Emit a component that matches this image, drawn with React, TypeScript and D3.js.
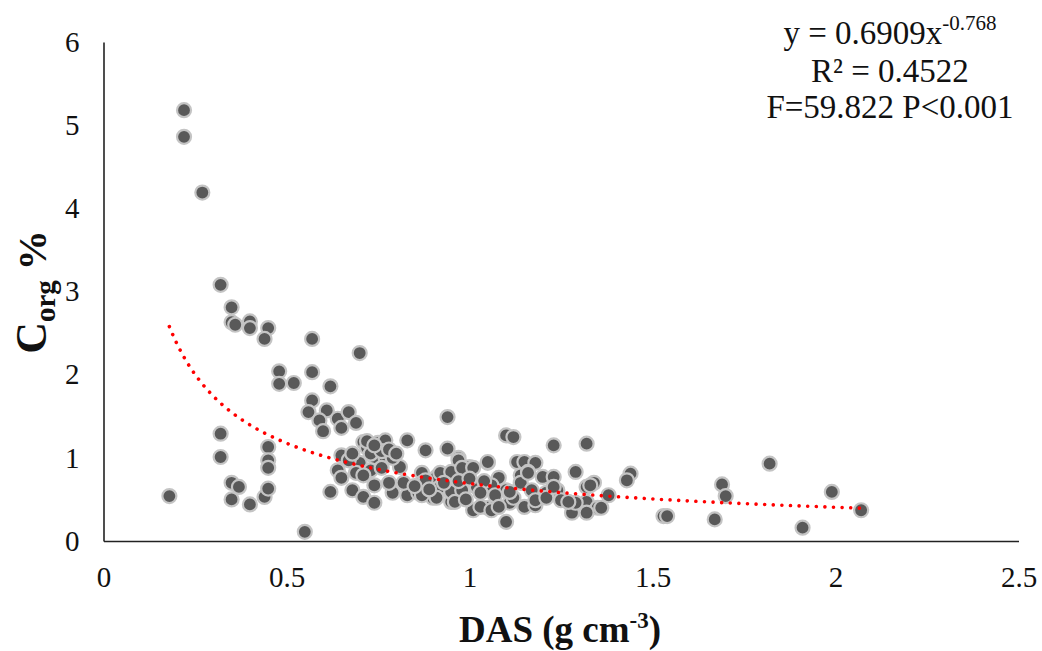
import React, { useEffect, useRef } from "react";
import * as d3 from "d3";

// bulk density (DAS) and organic carbon (Corg %)
const dasValues = [
  0.18, 0.22, 0.22, 0.27, 0.32, 0.35, 0.35, 0.36, 0.40, 0.40, 0.45, 0.44, 0.32, 0.32, 0.35, 0.37, 0.35, 0.40, 0.44, 0.45,
  0.45, 0.45, 0.45, 0.48, 0.48, 0.52, 0.55,
  0.57, 0.70, 0.57, 0.62, 0.57, 0.56, 0.61, 0.59, 0.64, 0.67, 0.69, 0.60, 0.65, 0.71, 0.75, 0.77, 0.83, 0.94, 0.88, 0.94,
  0.65, 0.64, 0.65, 0.71, 0.75, 0.81, 0.87, 0.91, 0.97, 1.00, 1.05, 0.62, 0.68, 0.71, 0.74, 0.74, 0.79, 0.83, 0.86, 0.90,
  0.95, 0.95, 0.98, 1.01, 1.05, 0.78, 0.82, 1.01,
  0.70, 0.74, 0.77, 0.79, 0.69, 0.73, 0.76, 0.71, 0.87,
  0.72, 0.73, 0.76, 0.72, 0.74, 0.78, 0.80, 0.67, 0.68,
  1.10, 1.12, 1.23, 0.97, 1.05, 1.13, 1.15, 1.18, 0.92, 0.95, 0.98, 1.01, 1.08, 1.14, 1.16, 1.20, 1.23, 0.88, 0.92, 0.95,
  0.98, 1.02, 1.06, 1.10, 1.14, 1.17, 1.21, 1.24, 0.87, 0.91, 0.96, 1.03, 1.07, 1.06, 1.11, 1.15, 1.18, 1.10,
  0.93, 0.97, 1.00, 1.04, 1.07, 1.12, 0.99, 1.03, 0.89, 0.85,
  1.32, 1.29, 1.44, 1.43, 1.16, 1.32, 1.34, 1.38, 1.08, 1.11, 1.18, 1.21, 1.25, 1.28, 1.32, 1.35, 1.32, 1.29, 1.53, 1.23,
  1.27, 1.36, 1.33,
  1.82, 1.69, 1.70, 1.99, 2.07, 1.54, 1.67, 1.91,
];
const corgValues = [
  0.54, 5.18, 4.86, 4.19, 3.08, 2.81, 2.63, 2.60, 2.64, 2.56, 2.56, 2.43, 1.29, 1.01, 0.70, 0.65, 0.50, 0.44, 0.53, 0.63,
  1.13, 0.97, 0.88, 2.04, 1.89, 1.90, 0.11,
  2.43, 2.26, 2.03, 1.86, 1.69, 1.55, 1.57, 1.45, 1.47, 1.55, 1.42, 1.32, 1.36, 1.19, 1.18, 1.21, 1.21, 1.49, 1.09, 1.11,
  1.03, 0.85, 0.76, 0.83, 0.94, 0.89, 0.82, 0.77, 1.00, 0.89, 0.94, 0.59, 0.61, 0.53, 0.67, 0.46, 0.58, 0.55, 0.58, 0.52,
  0.58, 0.47, 0.59, 0.37, 0.40, 0.70, 0.70, 0.67,
  0.94, 1.01, 1.01, 1.00, 0.82, 0.85, 0.88, 0.79, 0.70,
  1.12, 1.05, 1.08, 1.20, 1.15, 1.10, 1.05, 0.97, 1.05,
  1.27, 1.25, 1.15, 0.97, 0.95, 0.95, 0.95, 0.94, 0.82, 0.83, 0.88, 0.88, 0.76, 0.79, 0.83, 0.77, 0.77, 0.73, 0.65, 0.59,
  0.61, 0.65, 0.67, 0.61, 0.70, 0.61, 0.58, 0.61, 0.55, 0.52, 0.47, 0.41, 0.41, 0.37, 0.46, 0.41, 0.43, 0.23,
  0.70, 0.72, 0.75, 0.72, 0.55, 0.52, 0.50, 0.58, 0.62, 0.66,
  1.17, 0.83, 0.81, 0.73, 0.82, 0.65, 0.70, 0.55, 0.41, 0.59, 0.49, 0.52, 0.49, 0.34, 0.47, 0.40, 0.34, 0.46, 0.30, 0.65,
  0.47, 0.40, 0.67,
  0.93, 0.68, 0.54, 0.59, 0.37, 0.30, 0.26, 0.16,
];

const xTicks = [0, 0.5, 1, 1.5, 2, 2.5];
const yTicks = [0, 1, 2, 3, 4, 5, 6];

// power fit shown on the chart
const fitA = 0.6909;
const fitB = -0.768;
const fitRange = [0.18, 2.07];

const equationLines = ["R² = 0.4522", "F=59.822 P<0.001"];

const W = 1042, H = 651;
const FONT = "'Liberation Serif', 'Times New Roman', serif";

export default function App() {
  const ref = useRef<SVGSVGElement>(null);

  useEffect(() => {
    const svg = d3.select(ref.current);
    svg.selectAll("*").remove();

    const x = d3.scaleLinear().domain([0, 2.5]).range([103.5, 1018.5]);
    const y = d3.scaleLinear().domain([0, 6]).range([541, 42]);

    // axes
    const xAxis = svg.append("g")
      .attr("transform", `translate(0,${y(0)})`)
      .call(d3.axisBottom(x).tickValues(xTicks).tickSize(0).tickSizeOuter(0).tickPadding(25)
        .tickFormat((d) => String(d)));
    xAxis.select(".domain").attr("stroke", "#222").attr("stroke-width", 1.6);
    xAxis.selectAll("text").attr("font-family", FONT).attr("font-size", 29).attr("fill", "#111");

    const yAxis = svg.append("g")
      .attr("transform", `translate(${x(0)},0)`)
      .call(d3.axisLeft(y).tickValues(yTicks).tickSize(0).tickSizeOuter(0).tickPadding(24)
        .tickFormat((d) => String(d)));
    yAxis.select(".domain").attr("stroke", "#222").attr("stroke-width", 1.6);
    yAxis.selectAll("text").attr("font-family", FONT).attr("font-size", 29).attr("fill", "#111");

    // points
    const pts = dasValues.map((d, i) => ({ das: d, corg: corgValues[i] }));
    svg.append("g")
      .selectAll("circle")
      .data(pts)
      .enter()
      .append("circle")
      .attr("cx", (d) => x(d.das))
      .attr("cy", (d) => y(d.corg))
      .attr("r", 7)
      .attr("fill", "#595959")
      .attr("stroke", "#c4c4c4")
      .attr("stroke-width", 2.2);

    // trend line (dotted red)
    const fx = d3.range(fitRange[0], fitRange[1] + 0.001, 0.01);
    const line = d3.line<number>()
      .x((d) => x(d))
      .y((d) => y(fitA * Math.pow(d, fitB)))
      .curve(d3.curveMonotoneX);
    svg.append("path")
      .datum(fx)
      .attr("d", line)
      .attr("fill", "none")
      .attr("stroke", "#ff0000")
      .attr("stroke-width", 3.6)
      .attr("stroke-linecap", "round")
      .attr("stroke-dasharray", "0.01 8.6");

    // equation box
    const eq = svg.append("text")
      .attr("x", 890).attr("y", 44)
      .attr("text-anchor", "middle")
      .attr("font-family", FONT).attr("font-size", 33).attr("fill", "#111");
    eq.append("tspan").text(`y = ${fitA}x`);
    eq.append("tspan").attr("dy", -14).attr("font-size", 21).text(`${fitB}`);
    equationLines.forEach((t, i) => {
      svg.append("text")
        .attr("x", 890).attr("y", 82 + i * 36)
        .attr("text-anchor", "middle")
        .attr("font-family", FONT).attr("font-size", 33).attr("fill", "#111")
        .text(t);
    });

    // x axis title
    const xt = svg.append("text")
      .attr("x", 560).attr("y", 642)
      .attr("text-anchor", "middle")
      .attr("font-family", FONT).attr("font-weight", "bold").attr("font-size", 37).attr("fill", "#111");
    xt.append("tspan").text("DAS (g cm");
    xt.append("tspan").attr("dy", -14).attr("font-size", 23).text("-3");
    xt.append("tspan").attr("dy", 14).text(")");

    // y axis title
    const yt = svg.append("text")
      .attr("transform", "translate(46,292) rotate(-90)")
      .attr("text-anchor", "middle")
      .attr("font-family", FONT).attr("font-weight", "bold").attr("font-size", 44).attr("fill", "#111");
    yt.append("tspan").text("C");
    yt.append("tspan").attr("dy", 9).attr("font-size", 29).text("org");
    yt.append("tspan").attr("dy", -9).attr("font-size", 40).text(" %");
  }, []);

  return (
    <svg ref={ref} width={W} height={H}
      style={{ position: "absolute", left: 0, top: 0, background: "#fff" }} />
  );
}
